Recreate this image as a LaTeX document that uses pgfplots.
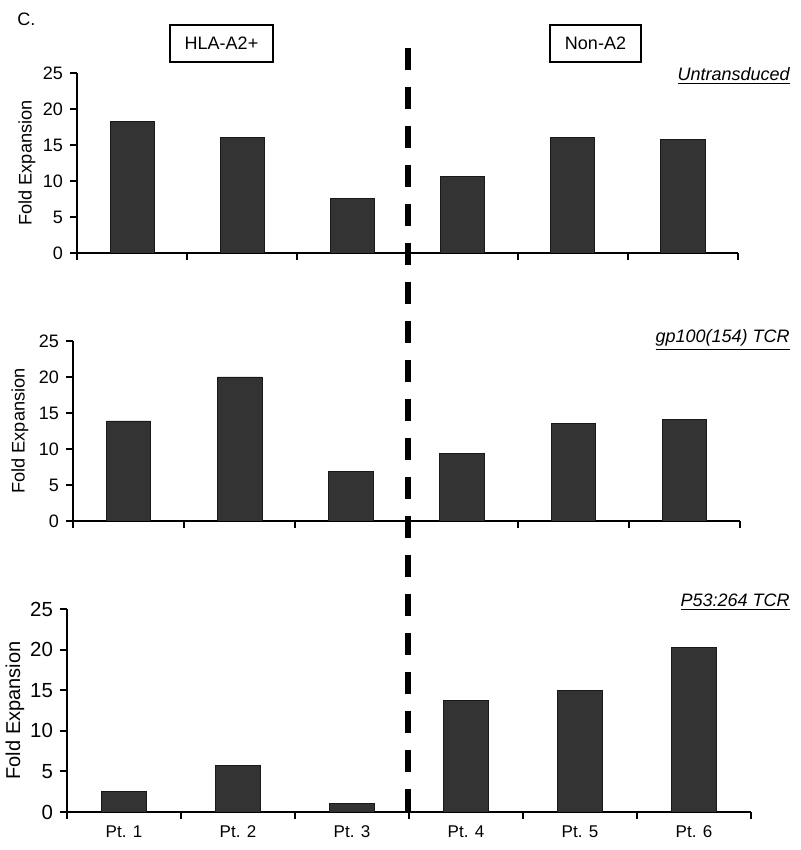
\documentclass[border=0pt]{standalone}
\usepackage{fontspec}
\setmainfont{Liberation Sans}
\usepackage{pgfplots}
\usepackage{pgfplotstable}
\pgfplotsset{compat=1.18}
\definecolor{barfill}{HTML}{333333}

\pgfplotstableread{
x y
1 18.3
2 16.0
3 7.6
4 10.6
5 16.0
6 15.8
}\untrans
\pgfplotstableread{
x y
1 13.9
2 20.0
3 6.9
4 9.4
5 13.5
6 14.1
}\gp
\pgfplotstableread{
x y
1 2.5
2 5.7
3 1.0
4 13.7
5 15.0
6 20.3
}\pft

\pgfplotsset{panel/.style={
  scale only axis, anchor=south west,
  xmin=0.5, xmax=6.5, ymin=0, ymax=25,
  axis x line*=bottom, axis y line*=left,
  axis line style={line width=1pt, -},
  xtick={0.5,1.5,...,6.5}, ytick={0,5,...,25},
  tick style={line width=1pt, black},
  tick align=outside, major tick length=3.5pt,
  /pgf/number format/assume math mode=true,
  ylabel={Fold Expansion},
}}

\begin{document}
\begin{tikzpicture}
\path[use as bounding box] (0,0) rectangle (400pt,425pt);

\begin{axis}[panel, at={(38.5pt,298.5pt)}, width=330.5pt, height=90pt,
  xticklabels={}, ticklabel style={font=\fontsize{9}{10}\selectfont},
  ylabel style={font=\fontsize{9.1}{10}\selectfont, at={(axis description cs:-0.0756,0.5)}, anchor=center}]
\addplot[ybar, bar width=0.4, fill=barfill, draw=black!90, line width=0.4pt] table {\untrans};
\end{axis}

\begin{axis}[panel, at={(36.5pt,164.5pt)}, width=333.5pt, height=90pt,
  xticklabels={}, ticklabel style={font=\fontsize{9}{10}\selectfont},
  ylabel style={font=\fontsize{9.1}{10}\selectfont, at={(axis description cs:-0.0795,0.5)}, anchor=center}]
\addplot[ybar, bar width=0.4, fill=barfill, draw=black!90, line width=0.4pt] table {\gp};
\end{axis}

\begin{axis}[panel, at={(33.5pt,19pt)}, width=342pt, height=101.5pt,
  xticklabels={Pt. 1,Pt. 2,Pt. 3,Pt. 4,Pt. 5,Pt. 6,{}}, x tick label as interval,
  xticklabel style={font=\fontsize{8.5}{9}\selectfont},
  yticklabel style={font=\fontsize{10.2}{11}\selectfont},
  ylabel style={font=\fontsize{10}{11}\selectfont, at={(axis description cs:-0.076,0.5)}, anchor=center}]
\addplot[ybar, bar width=0.4, fill=barfill, draw=black!90, line width=0.4pt] table {\pft};
\end{axis}

\draw[line width=3pt, dash pattern=on 11pt off 8.5pt] (204pt,401pt) -- (204pt,11.5pt);

\node[draw, line width=0.6pt, minimum width=51.5pt, minimum height=18.5pt, font=\fontsize{9}{10}\selectfont] at (110.75pt,403.25pt) {HLA-A2+};
\node[draw, line width=0.6pt, minimum width=45.5pt, minimum height=18.5pt, font=\fontsize{9}{10}\selectfont] at (297.75pt,403.25pt) {Non-A2};
\node[anchor=west, font=\fontsize{9}{10}\selectfont, inner sep=0pt] at (8.5pt,415.5pt) {C.};

\node[anchor=east, inner sep=0pt, font=\fontsize{9}{10}\selectfont\itshape] at (395pt,387pt) {\underline{Untransduced}};
\node[anchor=east, inner sep=0pt, font=\fontsize{9}{10}\selectfont\itshape] at (395pt,255pt) {\underline{gp100(154) TCR}};
\node[anchor=east, inner sep=0pt, font=\fontsize{9}{10}\selectfont\itshape] at (395pt,124pt) {\underline{P53:264 TCR}};
\end{tikzpicture}
\end{document}
